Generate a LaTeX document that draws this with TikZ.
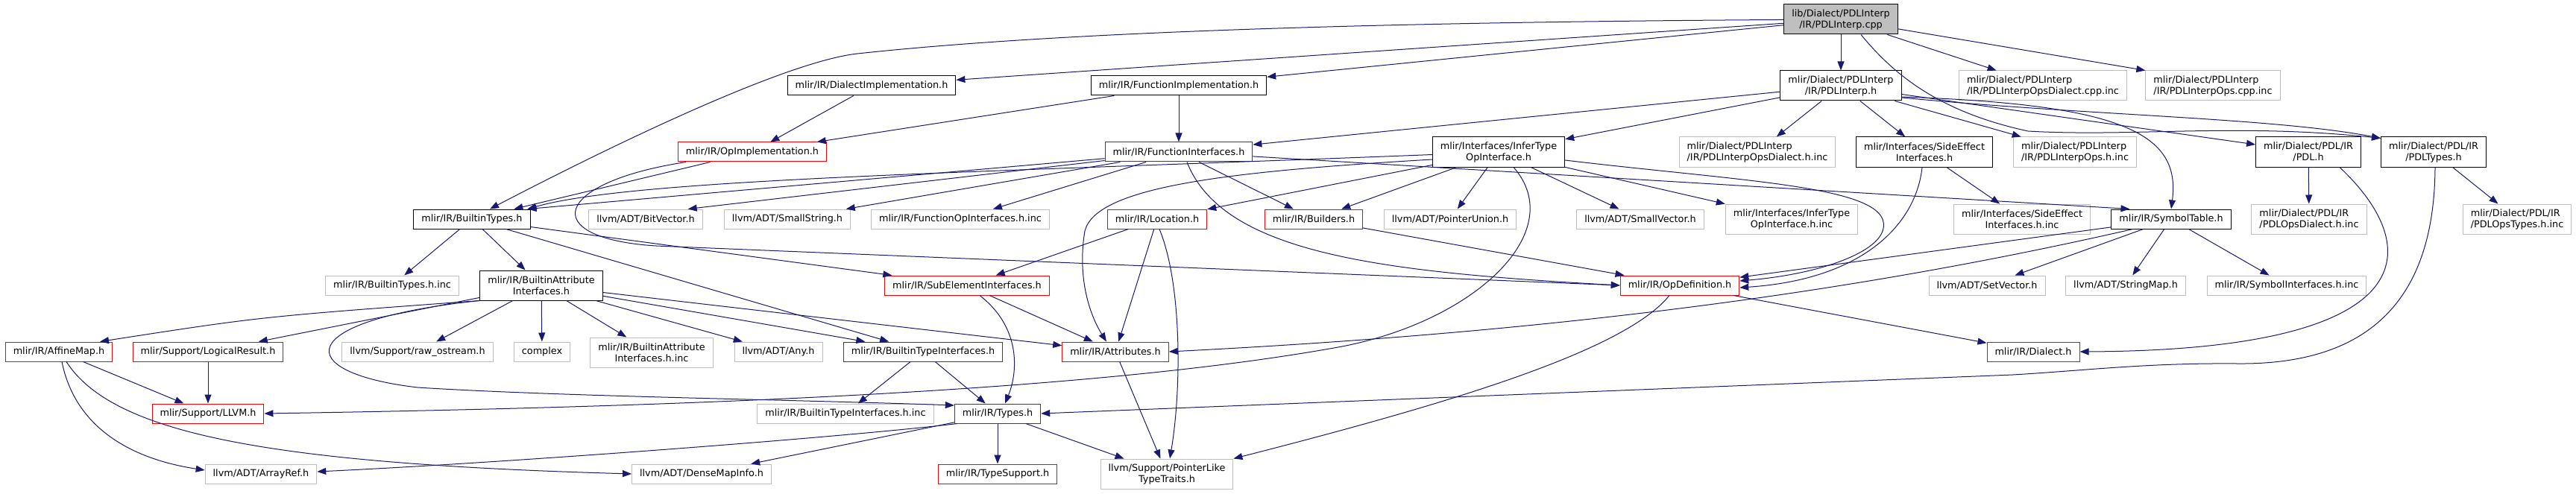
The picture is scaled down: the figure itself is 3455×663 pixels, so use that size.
\documentclass[tikz,border=0pt]{standalone}
\usepackage{fontspec}
\setmainfont{DejaVu Sans}
\usepackage{xcolor}
\usepackage{tikz}
\usetikzlibrary{arrows.meta}
\definecolor{edgecolor}{HTML}{191970}
\definecolor{truncatedcolor}{HTML}{FF0000}
\definecolor{externalcolor}{HTML}{BFBFBF}
\tikzset{header/.style={draw,fill=white,line width=1pt,minimum height=26pt,inner xsep=10.5pt,inner ysep=2pt,align=center,font=\fontsize{12.8}{15}\selectfont},documented/.style={header,draw=black},truncated/.style={header,draw=truncatedcolor},external/.style={header,draw=externalcolor},two lines/.style={minimum height=40pt},source file/.style={documented,fill=externalcolor,two lines},include edge/.style={-{Triangle[length=12pt,width=9pt]},draw=edgecolor,line width=1pt}}

\begin{document}
\begin{tikzpicture}[x=1pt,y=-1pt]
 \useasboundingbox (0,0) rectangle (3455,663);
 \node[source file] (root) at (2469,26) {lib/Dialect/PDLInterp\\/IR/PDLInterp.cpp};

 \node[documented] (dimpl) at (1169,115) {mlir/IR/DialectImplementation.h};
 \node[documented] (fimpl) at (1581,115) {mlir/IR/FunctionImplementation.h};
 \node[documented,two lines] (pdlinterp) at (2469,115) {mlir/Dialect/PDLInterp\\/IR/PDLInterp.h};
 \node[external,two lines,align=left] (dialectcpp) at (2740,115) {mlir/Dialect/PDLInterp\\/IR/PDLInterpOpsDialect.cpp.inc};
 \node[external,two lines,align=left] (opscpp) at (2968,115) {mlir/Dialect/PDLInterp\\/IR/PDLInterpOps.cpp.inc};

 \node[truncated] (opimpl) at (1009,204) {mlir/IR/OpImplementation.h};
 \node[documented,draw=black!75] (finterfaces) at (1581,204) {mlir/IR/FunctionInterfaces.h};
 \node[documented,two lines] (infertype) at (2010,204) {mlir/Interfaces/InferType\\OpInterface.h};
 \node[external,two lines,align=left] (dialecthinc) at (2357,204) {mlir/Dialect/PDLInterp\\/IR/PDLInterpOpsDialect.h.inc};
 \node[documented,two lines] (sideeffect) at (2581,204) {mlir/Interfaces/SideEffect\\Interfaces.h};
 \node[external,two lines,align=left] (opshinc) at (2783,204) {mlir/Dialect/PDLInterp\\/IR/PDLInterpOps.h.inc};
 \node[documented,two lines] (pdl) at (3096,204) {mlir/Dialect/PDL/IR\\/PDL.h};
 \node[documented,two lines] (pdltypes) at (3264,204) {mlir/Dialect/PDL/IR\\/PDLTypes.h};

 \node[documented] (btypes) at (633,294) {mlir/IR/BuiltinTypes.h};
 \node[external] (bitvector) at (866,294) {llvm/ADT/BitVector.h};
 \node[external] (smallstring) at (1056,294) {llvm/ADT/SmallString.h};
 \node[external] (fopinc) at (1288,294) {mlir/IR/FunctionOpInterfaces.h.inc};
 \node[truncated] (location) at (1552,294) {mlir/IR/Location.h};
 \node[truncated] (builders) at (1762,294) {mlir/IR/Builders.h};
 \node[external] (pointerunion) at (1945,294) {llvm/ADT/PointerUnion.h};
 \node[external] (smallvector) at (2200,294) {llvm/ADT/SmallVector.h};
 \node[external,two lines] (infertypeinc) at (2403,294) {mlir/Interfaces/InferType\\OpInterface.h.inc};
 \node[external,two lines] (sideeffectinc) at (2712,294) {mlir/Interfaces/SideEffect\\Interfaces.h.inc};
 \node[documented] (symboltable) at (2912,294) {mlir/IR/SymbolTable.h};
 \node[external,two lines,align=left] (pdldialectinc) at (3097,294) {mlir/Dialect/PDL/IR\\/PDLOpsDialect.h.inc};
 \node[external,two lines,align=left] (pdltypesinc) at (3376,294) {mlir/Dialect/PDL/IR\\/PDLOpsTypes.h.inc};

 \node[external] (btypesinc) at (526,383) {mlir/IR/BuiltinTypes.h.inc};
 \node[documented,two lines] (battr) at (726,383) {mlir/IR/BuiltinAttribute\\Interfaces.h};
 \node[truncated] (subelem) at (1297,383) {mlir/IR/SubElementInterfaces.h};
 \node[truncated] (opdef) at (2253,383) {mlir/IR/OpDefinition.h};
 \node[external] (setvector) at (2665,383) {llvm/ADT/SetVector.h};
 \node[external] (stringmap) at (2851,383) {llvm/ADT/StringMap.h};
 \node[external] (symifinc) at (3067,383) {mlir/IR/SymbolInterfaces.h.inc};

 \node[truncated] (affinemap) at (79,472) {mlir/IR/AffineMap.h};
 \node[truncated] (logicalresult) at (279,472) {mlir/Support/LogicalResult.h};
 \node[external] (rawostream) at (560,472) {llvm/Support/raw\_ostream.h};
 \node[external] (complex) at (727,472) {complex};
 \node[external,two lines] (battrinc) at (874,473) {mlir/IR/BuiltinAttribute\\Interfaces.h.inc};
 \node[external] (any) at (1044,472) {llvm/ADT/Any.h};
 \node[documented,draw=black!75] (btypeif) at (1238,472) {mlir/IR/BuiltinTypeInterfaces.h};
 \node[truncated] (attributes) at (1496,472) {mlir/IR/Attributes.h};
 \node[truncated] (dialect) at (2727,472) {mlir/IR/Dialect.h};

 \node[truncated] (llvmh) at (279,555) {mlir/Support/LLVM.h};
 \node[external] (btypeifinc) at (1134,555) {mlir/IR/BuiltinTypeInterfaces.h.inc};
 \node[documented,draw=black!75] (types) at (1338,555) {mlir/IR/Types.h};

 \node[external] (arrayref) at (350,636) {llvm/ADT/ArrayRef.h};
 \node[external] (densemap) at (941,636) {llvm/ADT/DenseMapInfo.h};
 \node[truncated] (typesupport) at (1338,636) {mlir/IR/TypeSupport.h};
 \node[external,two lines] (pointerlike) at (1565,636) {llvm/Support/PointerLike\\TypeTraits.h};

 \foreach \src/\dst in {root/dimpl,root/fimpl,root/pdlinterp,root/dialectcpp,pdlinterp/finterfaces,pdlinterp/infertype,pdlinterp/dialecthinc,pdlinterp/sideeffect,pdlinterp/opshinc,pdlinterp/pdl,dimpl/opimpl,fimpl/opimpl,fimpl/finterfaces,opimpl/btypes,finterfaces/smallstring,finterfaces/fopinc,finterfaces/builders,infertype/location,infertype/builders,infertype/pointerunion,infertype/smallvector,infertype/infertypeinc,sideeffect/sideeffectinc,opdef/dialect,symboltable/opdef,symboltable/setvector,symboltable/stringmap,symboltable/symifinc,pdl/pdldialectinc,pdltypes/pdltypesinc,btypes/btypesinc,btypes/battr,btypes/btypeif,btypes/subelem,battr/logicalresult,battr/rawostream,battr/complex,battr/battrinc,battr/any,battr/btypeif,battr/attributes,affinemap/llvmh,logicalresult/llvmh,location/subelem,location/attributes,builders/opdef,subelem/attributes,btypeif/btypeifinc,btypeif/types,attributes/pointerlike,types/typesupport,types/pointerlike,types/densemap} {\draw[include edge] (\src)--(\dst);}

 % edges that have to bend round other files
 \draw[include edge] (root)--(opscpp.north west);
 \draw[include edge] (root) .. controls (1800,30) and (1400,45) .. (1150,72) .. controls (1060,82) and (850,180) .. ([xshift=24pt]btypes.north);
 \draw[include edge] ([xshift=27pt]root.south) .. controls (2540,100) and (2600,150) .. (2720,176) .. controls (2860,184) and (3000,165) .. ([yshift=-2pt]pdltypes.north west);
 \draw[include edge] ([yshift=-16pt]pdlinterp.east) .. controls (2800,155) and (3050,158) .. ([yshift=-2pt]pdltypes.north west);
 \draw[include edge] ([yshift=-15pt]pdlinterp.east) .. controls (2850,140) and (2925,180) .. (symboltable.north);
 \draw[include edge] (finterfaces)--([xshift=-4pt]btypes.north east);
 \draw[include edge] (finterfaces)--([xshift=-20pt]bitvector.north east);
 \draw[include edge] (finterfaces)--([xshift=25pt]symboltable.north west);
 \draw[include edge] ([xshift=11pt]finterfaces.south) .. controls (1640,340) and (1850,365) .. (opdef.west);
 \draw[include edge] ([xshift=-89pt]opimpl.south) .. controls (740,245) and (720,320) .. (880,330)--(opdef.west);
 \draw[include edge] (infertype) .. controls (1300,232) and (850,240) .. ([xshift=-4pt]btypes.north east);
 \draw[include edge] ([yshift=-11pt]infertype.east) .. controls (2350,245) and (2545,250) .. (2525,310) .. controls (2515,340) and (2440,368) .. ([yshift=6pt]opdef.east);
 \draw[include edge] ([yshift=-10pt]infertype.west) .. controls (1650,230) and (1470,250) .. (1455,310) .. controls (1445,370) and (1460,420) .. ([xshift=-12pt]attributes.north);
 \draw[include edge] ([xshift=20pt]infertype.south) .. controls (2105,310) and (1980,430) .. (1800,465) .. controls (1500,520) and (1000,545) .. (llvmh.east);
 \draw[include edge] ([xshift=-3pt]sideeffect.south) .. controls (2570,300) and (2500,375) .. ([yshift=-3pt]opdef.east);
 \draw[include edge] ([xshift=29pt]symboltable.south west) .. controls (2500,390) and (2100,445) .. (attributes.east);
 \draw[include edge] ([xshift=-14pt]opdef.south) .. controls (2180,470) and (1950,540) .. (pointerlike.north east);
 \draw[include edge] ([xshift=42pt]pdl.south) .. controls (3250,330) and (3260,470) .. (dialect.east);
 \draw[include edge] ([xshift=2pt]pdltypes.south) .. controls (3265,400) and (3180,490) .. (3000,488) .. controls (2880,487) and (2800,497) .. (2700,503)--(types.east);
 \draw[include edge] (battr.south west) .. controls (350,425) .. ([xshift=55pt]affinemap.north);
 \draw[include edge] (battr.south west) .. controls (390,430) and (390,500) .. (560,520) .. controls (750,532) and (1050,536) .. ([yshift=11pt]types.west);
 \draw[include edge] ([xshift=4pt]affinemap.south) .. controls (100,570) and (170,615) .. ([yshift=5pt]arrayref.west);
 \draw[include edge] ([xshift=10pt]affinemap.south) .. controls (150,580) and (350,622) .. (densemap.west);
 \draw[include edge] ([xshift=3pt]location.south) .. controls (1585,380) and (1585,520) .. ([xshift=4pt]pointerlike.north);
 \draw[include edge] ([xshift=17pt]subelem.south) .. controls (1370,440) and (1365,500) .. ([xshift=10pt]types.north);
 \draw[include edge] ([xshift=4pt]types.south west) .. controls (1150,585) and (700,620) .. ([yshift=3pt]arrayref.east);
\end{tikzpicture}
\end{document}
